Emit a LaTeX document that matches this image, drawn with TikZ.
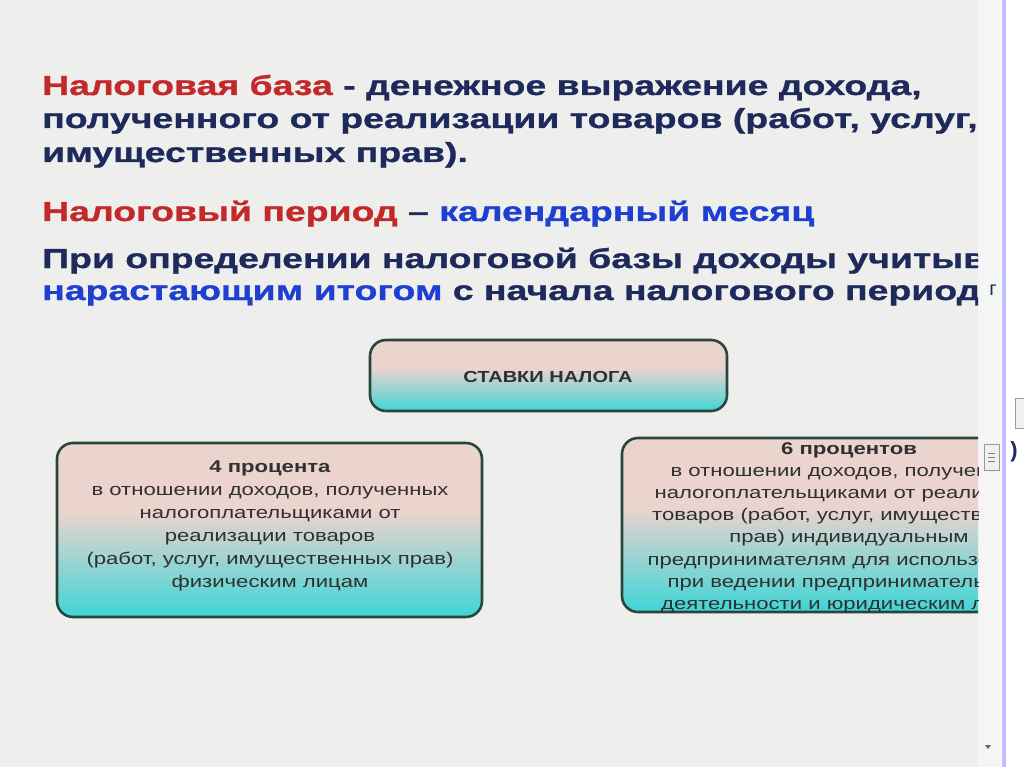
\documentclass[tikz,border=0pt]{standalone}
\usepackage{fontspec}
\setmainfont{Liberation Sans}
\definecolor{bg}{HTML}{EEEFEC}
\definecolor{redt}{HTML}{C3282A}
\definecolor{navy}{HTML}{1E2A5C}
\definecolor{bluet}{HTML}{1F3FD0}
\definecolor{pinkc}{HTML}{EBD3CE}
\definecolor{cyanc}{HTML}{22D6D8}
\definecolor{edgec}{HTML}{29463E}
\definecolor{boxtext}{HTML}{303030}
\pgfdeclareverticalshading{boxshade}{100bp}{color(0bp)=(cyanc); color(20bp)=(cyanc); color(55bp)=(pinkc); color(100bp)=(pinkc)}
\tikzset{
  ratebox/.style={draw=edgec, line width=2.6pt, rounded corners=16pt, shading=boxshade},
  title/.style={anchor=base west, inner sep=0pt, font=\addfontfeature{FakeStretch=1.36,FakeBold=1}\bfseries\fontsize{27.5}{30}\selectfont},
  boxtxt/.style={align=center, text=boxtext, font=\addfontfeature{FakeStretch=1.3}\fontsize{17}{23}\selectfont, inner sep=0pt}
}
\begin{document}
\begin{tikzpicture}[x=1pt,y=-1pt]
\useasboundingbox (0,0) rectangle (1024,767);
\fill[white] (0,0) rectangle (1024,767);
\fill[bg] (0,0) rectangle (978,767);
\fill[black!4] (978,0) rectangle (1001,767);
\fill[blue!25] (1002,0) rectangle (1006,767);
\begin{scope}
\clip (0,0) rectangle (978,767);
\node[title] (t1) at (42,95) {\textcolor{redt}{Налоговая база} \textcolor{navy}{- денежное выражение дохода,}};
\node[title,text=navy] (t2) at (42,128) {полученного от реализации товаров (работ, услуг,};
\node[title,text=navy] (t3) at (42,162) {имущественных прав).};
\node[title] (t4) at (42,221) {\textcolor{redt}{Налоговый период} \textcolor{navy}{–} \textcolor{bluet}{календарный месяц}};
\node[title,text=navy] (t5) at (42,268) {При определении налоговой базы доходы учитываются};
\node[title,text=navy] (t6) at (42,300) {\textcolor{bluet}{нарастающим итогом} с начала налогового периода};
\draw[ratebox] (370,340) rectangle (727,411);
\node[boxtxt,font=\addfontfeature{FakeStretch=1.25}\bfseries\fontsize{16}{18}\selectfont] (st) at (548,377) {СТАВКИ НАЛОГА};
\draw[ratebox] (57,443) rectangle (482,617);
\node[boxtxt,anchor=north] (b4) at (270,461) {\textbf{4 процента}\\в отношении доходов, полученных\\налогоплательщиками от\\реализации товаров\\(работ, услуг, имущественных прав)\\физическим лицам};
\draw[ratebox] (622,438) rectangle (1060,612);
\node[boxtxt,anchor=north,font=\addfontfeature{FakeStretch=1.3}\fontsize{17}{22.2}\selectfont] (b6) at (849,442) {\textbf{6 процентов}\\в отношении доходов, полученных\\налогоплательщиками от реализации\\товаров (работ, услуг, имущественных\\прав) индивидуальным\\предпринимателям для использования\\при ведении предпринимательской\\деятельности и юридическим лицам};
\end{scope}
\draw[black!40,fill=black!6] (984,444) rectangle (999,470);
\foreach \yy in {453,457,461} \draw[black!50] (988,\yy) -- (995,\yy);
\node[inner sep=0pt,font=\fontsize{20}{20}\selectfont,text=navy] (g) at (993,290) {г};
\node[inner sep=0pt,font=\bfseries\fontsize{22}{22}\selectfont,text=navy] (o) at (1014,452) {)};
\draw[black!40,fill=black!6] (1015,398) rectangle (1024,428);
\fill[black!60] (985,745) -- (991,745) -- (988,749) -- cycle;
\end{tikzpicture}
\end{document}
